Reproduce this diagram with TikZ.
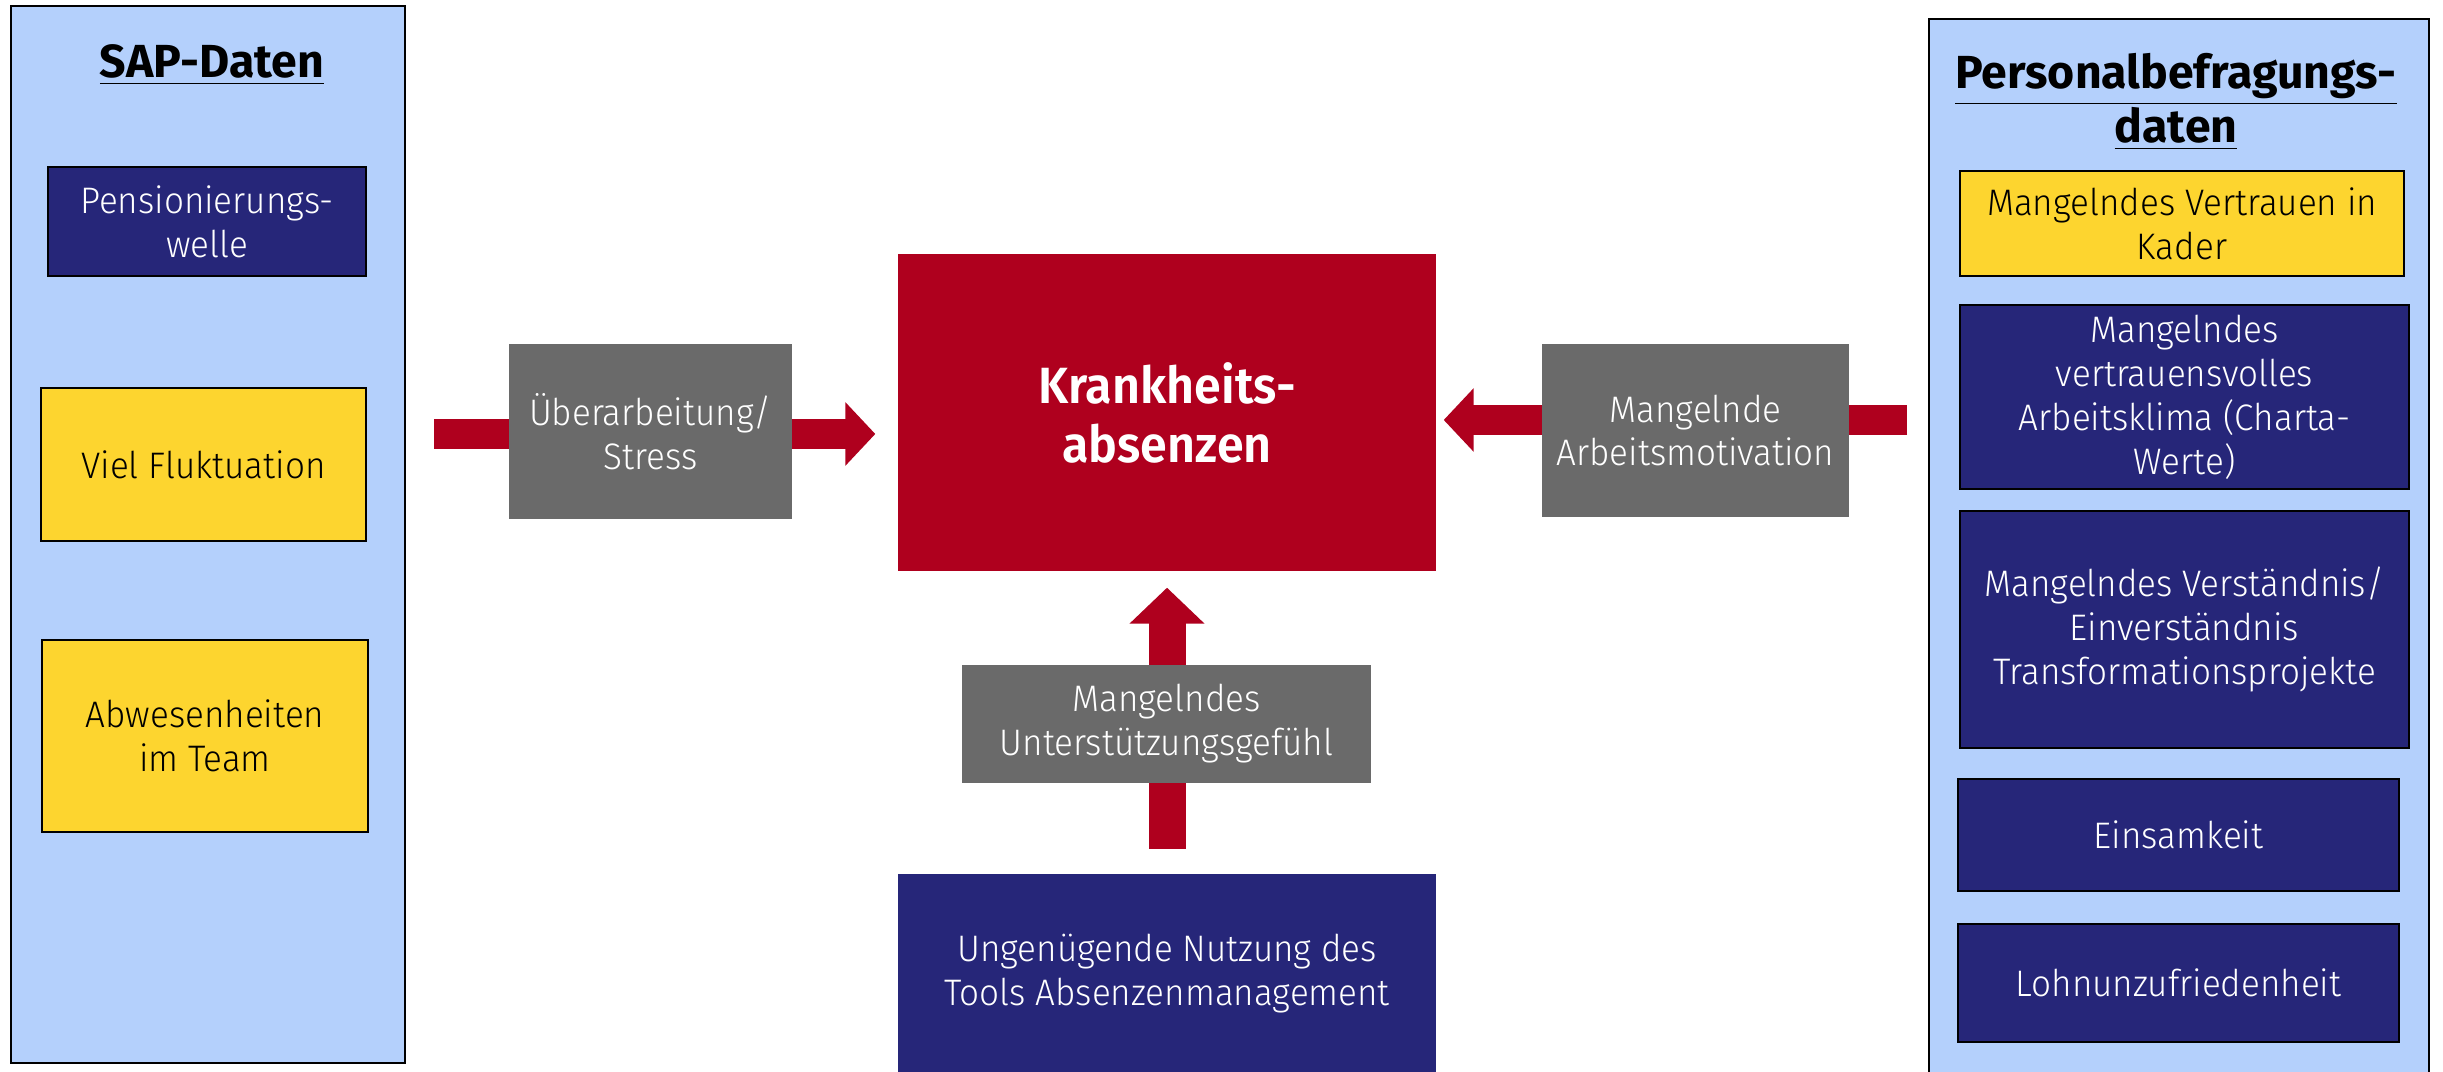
\documentclass[tikz,border=0pt]{standalone}
\usepackage{fontspec}
\setmainfont{Fira Sans}[UprightFont=* Light, BoldFont=* SemiBold, FakeStretch=0.95]
\newfontfamily\titlefont{Fira Sans}[UprightFont=* Bold]
\usetikzlibrary{arrows.meta,
    backgrounds,
    positioning}
\definecolor{panelblue}{HTML}{B4D0FC}
\definecolor{navy}{HTML}{262679}
\definecolor{gelb}{HTML}{FDD52F}
\definecolor{rot}{HTML}{AF001E}
\definecolor{grau}{HTML}{6A6A6A}

\begin{document}
\begin{tikzpicture}[
    panel/.style={draw=black, line width=0.7pt, fill=panelblue, inner sep=0pt},
    paneltitle/.style={align=center, font=\fontsize{13.2}{15.5}\selectfont\titlefont},
    item/.style={draw=black, line width=0.8pt, align=center, inner sep=2pt,
        font=\fontsize{10.5}{12.5}\selectfont},
    navybox/.style={item, fill=navy, text=white},
    yellowbox/.style={item, fill=gelb, text=black},
    causebox/.style={fill=grau, text=white, align=center, inner sep=2pt,
        font=\fontsize{10.5}{12.5}\selectfont},
    redarrow/.style={draw=rot, line width=3mm, -{Triangle[width=6.2mm,length=3mm]}}
]
    \useasboundingbox (0,0) rectangle (24.43,10.72);

    % SAP-Daten
    \node[panel, minimum width=3.94cm, minimum height=10.57cm] (sap) at (2.08,5.375) {};
    \node[paneltitle] (saptitle) at (2.12,10.07) {\underline{SAP-Daten}};
    \node[navybox, minimum width=3.18cm, minimum height=1.09cm] (pens) at (2.07,8.505) {Pensionierungs-\\welle};
    \node[yellowbox, minimum width=3.25cm, minimum height=1.53cm] (fluk) at (2.035,6.075) {Viel Fluktuation};
    \node[yellowbox, minimum width=3.26cm, minimum height=1.92cm] (abw) at (2.05,3.36) {Abwesenheiten\\im Team};

    % Personalbefragungsdaten
    \node[panel, minimum width=5.0cm, minimum height=10.73cm] (pers) at (21.79,5.165) {};
    \node[paneltitle] (perstitle) at (21.76,9.70) {\underline{Personalbefragungs-}\\\underline{daten}};
    \node[yellowbox, minimum width=4.44cm, minimum height=1.05cm] (kader) at (21.82,8.485) {Mangelndes Vertrauen in\\Kader};
    \node[navybox, minimum width=4.49cm, minimum height=1.84cm] (klima) at (21.845,6.75) {Mangelndes\\vertrauensvolles\\Arbeitsklima (Charta-\\Werte)};
    \node[navybox, minimum width=4.49cm, minimum height=2.37cm] (verst) at (21.845,4.425) {Mangelndes Verständnis/\\Einverständnis\\Transformationsprojekte};
    \node[navybox, minimum width=4.41cm, minimum height=1.12cm] (einsam) at (21.785,2.37) {Einsamkeit};
    \node[navybox, minimum width=4.41cm, minimum height=1.18cm] (lohn) at (21.785,0.89) {Lohnunzufriedenheit};

    % Mitte
    \node[fill=rot, text=white, align=center, minimum width=5.38cm, minimum height=3.17cm,
        font=\fontsize{14.5}{16.8}\selectfont\bfseries] (krank) at (11.67,6.595) {Krankheits-\\absenzen};
    \node[causebox, minimum width=2.83cm, minimum height=1.75cm] (stress) at (6.505,6.405) {Überarbeitung/\\Stress};
    \node[causebox, minimum width=3.07cm, minimum height=1.73cm] (motiv) at (16.955,6.415) {Mangelnde\\Arbeitsmotivation};
    \node[causebox, minimum width=4.09cm, minimum height=1.18cm] (support) at (11.665,3.48) {Mangelndes\\Unterstützungsgefühl};
    \node[navybox, draw=none, minimum width=5.38cm, minimum height=2.0cm] (tools) at (11.67,0.98) {Ungenügende Nutzung des\\Tools Absenzenmanagement};

    \coordinate (sapout) at (4.34,6.38);
    \coordinate (persout) at (19.07,6.52);
    \coordinate (toolsout) at (11.67,2.23);

    \begin{scope}[on background layer]
        \draw[redarrow, shorten >=0.22cm] (sapout) -- (sapout -| krank.west);
        \draw[redarrow, shorten >=0.07cm] (persout) -- (persout -| krank.east);
        \draw[redarrow, line width=3.7mm, -{Triangle[width=7.3mm,length=3.6mm]}, shorten >=0.16cm]
            (toolsout) -- (krank.south);
    \end{scope}
\end{tikzpicture}
\end{document}
